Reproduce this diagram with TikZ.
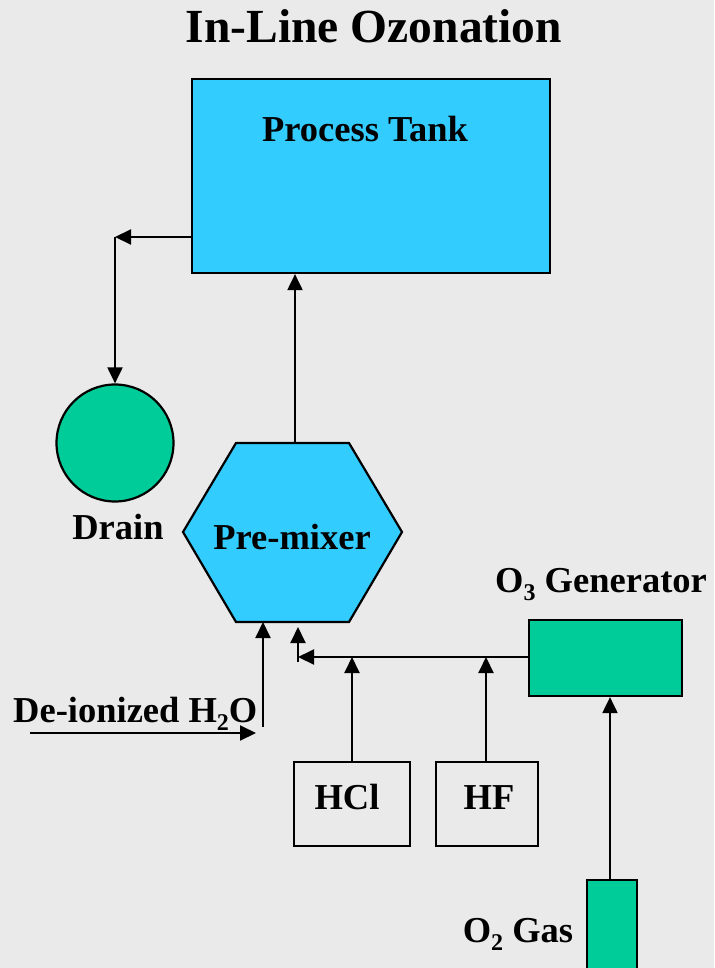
\documentclass[tikz,border=0pt]{standalone}
\usepackage{fontspec}
\setmainfont{Liberation Serif}
\usetikzlibrary{arrows.meta}
\definecolor{bgc}{HTML}{EAEAEA}
\definecolor{tankc}{HTML}{33CCFF}
\definecolor{greenc}{HTML}{00CC99}
\newcommand{\mysub}[1]{\raisebox{-8pt}{\fontsize{24}{24}\selectfont #1}}
\tikzset{
  lbl/.style={font=\bfseries\fontsize{36.5}{40}\selectfont, inner sep=0pt},
  boxed/.style={draw=black, line width=2.2pt, inner sep=0pt},
  arr/.style={line width=2pt, -{Triangle[length=16pt,width=15pt]}},
  plain/.style={line width=2pt}
}
\begin{document}
\begin{tikzpicture}[x=1pt,y=-1pt]
\fill[bgc] (0,0) rectangle (714,968);
\useasboundingbox (0,0) rectangle (714,968);

% title
\node[lbl, font=\bfseries\fontsize{47.5}{52}\selectfont, anchor=base] (title) at (374,43) {In-Line Ozonation};

% process tank
\node[boxed, fill=tankc, minimum width=358pt, minimum height=194pt] (tank) at (371,176) {};
\node[lbl, anchor=base] (tanklbl) at (365,142) {Process Tank};

% drain
\node[boxed, circle, fill=greenc, minimum size=117pt] (drain) at (115,443) {};
\node[lbl, anchor=base] (drainlbl) at (118,539) {Drain};

% pre-mixer hexagon
\draw[line width=2.2pt, fill=tankc] (236,443) -- (349,443) -- (402,532) -- (349,622) -- (236,622) -- (183,532) -- cycle;
\coordinate (pmtop) at (295,443);
\node[lbl, anchor=base] (pm) at (292,549) {Pre-mixer};

% O3 generator
\node[boxed, fill=greenc, minimum width=153pt, minimum height=76pt] (o3) at (605.5,658) {};
\node[lbl, anchor=base] (o3lbl) at (601,592) {O\mysub{3} Generator};

% HCl, HF
\node[boxed, minimum width=116pt, minimum height=84pt] (hcl) at (352,804) {};
\node[lbl, anchor=base] (hcllbl) at (347,809) {HCl};
\node[boxed, minimum width=102pt, minimum height=84pt] (hf) at (487,804) {};
\node[lbl, anchor=base] (hflbl) at (489,809) {HF};

% O2 gas
\draw[boxed, fill=greenc] (587,880) rectangle (637,972);
\coordinate (o2top) at (610,880);
\node[lbl, anchor=base] (o2lbl) at (518,942) {O\mysub{2} Gas};

% De-ionized water
\node[lbl, anchor=base west] (dilbl) at (13,722) {De-ionized H\mysub{2}O};
\coordinate (diA) at (30,733);
\coordinate (diB) at (256,733);
\coordinate (diC) at (263,727);
\coordinate (diD) at (263,622);

% connectors
\coordinate (tl) at (192,237);
\coordinate (corner) at (115,237);
\draw[arr] (tl) -- (corner);
\draw[arr] (corner) -- (drain.north);
\draw[arr] (pmtop) -- (pmtop |- tank.south);
\draw[arr] (diA) -- (diB);
\draw[arr] (diC) -- (diD);

\coordinate (hj) at (298,657);
\coordinate (hjb) at (298,662);
\coordinate (hjt) at (298,627);
\draw[arr] (o3.west |- hj) -- (hj);
\draw[arr] (hjb) -- (hjt);
\draw[arr] (hcl.north) -- (hcl.north |- hj);
\draw[arr] (hf.north -| 486,0) -- (486,657);
\draw[arr] (o2top) -- (o2top |- o3.south);
\end{tikzpicture}
\end{document}
